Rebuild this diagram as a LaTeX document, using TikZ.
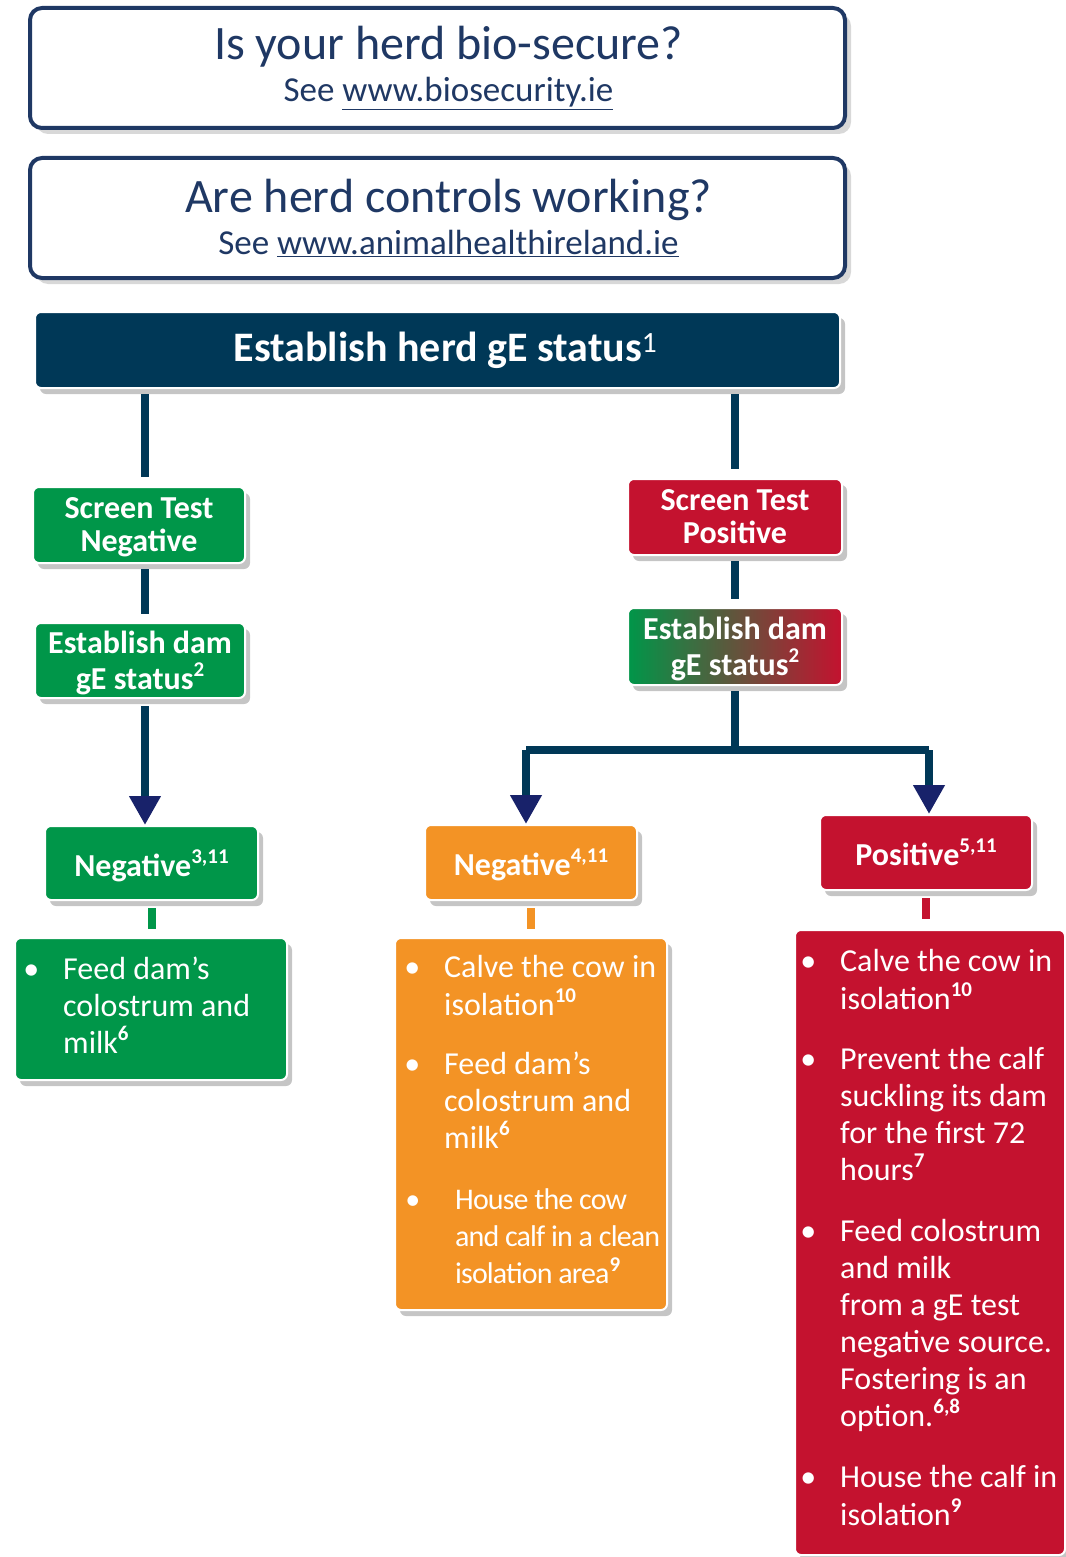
\documentclass[tikz,border=0pt]{standalone}
\usepackage{fontspec}
\setmainfont{Carlito}
\newfontfamily\tightfont{Carlito}[LetterSpace=-3]
\usetikzlibrary{arrows.meta, positioning, shadows, calc}
\definecolor{aheNavy}{HTML}{1F3864}
\definecolor{headFill}{HTML}{003857}
\definecolor{tipNavy}{HTML}{18226A}
\definecolor{negGreen}{HTML}{009649}
\definecolor{posRed}{HTML}{C4122F}
\definecolor{midOrange}{HTML}{F39325}
\tikzset{
    connector/.style={line width=8pt, headFill},
    stemline/.style={line width=8pt, #1},
    downArrow/.style={connector, -{Triangle[length=29pt, width=30pt, color=tipNavy]}},
    boxShadow/.style={drop shadow={shadow xshift=5pt, shadow yshift=-6pt, fill=black!45, opacity=.5}},
}
\newcommand{\fnote}[1]{\raisebox{0.4em}{\fontsize{21}{21}\selectfont\bfseries #1}}
\newcommand{\bul}[1][24pt]{\makebox[0pt][r]{\textbullet\hspace{#1}}}
\newcommand{\qpad}{\hspace*{22pt}}

\begin{document}
\begin{tikzpicture}[
        x=1pt, y=-1pt,
        question/.style={
            rectangle, rounded corners=12pt, draw=aheNavy, line width=4pt,
            fill=white, text=aheNavy, minimum width=815pt, minimum height=120pt,
            align=center, font=\fontsize{35}{42}\selectfont,
            drop shadow={shadow xshift=6pt, shadow yshift=-6pt, fill=black!30, opacity=.5}
        },
        header/.style={
            rectangle, rounded corners=6pt, fill=headFill, draw=white, line width=2pt,
            text=white, minimum width=805pt, minimum height=76pt,
            font=\bfseries\fontsize{42}{46}\selectfont, boxShadow
        },
        status/.style={
            rectangle, rounded corners=6pt, fill=#1, draw=white, line width=2pt,
            text=white, minimum width=212pt, minimum height=76pt, align=center,
            text depth=0pt, font=\bfseries\fontsize{32}{33}\selectfont, boxShadow
        },
        damstatus/.style={status=#1, font=\bfseries\fontsize{32}{36}\selectfont},
        listbox/.style={
            rectangle, rounded corners=6pt, fill=#1, draw=white, line width=2pt,
            minimum width=272pt, boxShadow
        },
        itemtext/.style={
            anchor=north west, inner sep=0pt, text=white, align=left,
            font=\fontsize{32}{37}\selectfont
        },
    ]

    \useasboundingbox (0,0) rectangle (1065,1557);

    % ---- Questions ----
    \node[question] (bioQ) at (437.5,68)
        {\qpad{\fontsize{48}{42}\selectfont Is your herd bio-secure?}\\\qpad See \underline{www.biosecurity.ie}};
    \node[question] (ctrlQ) at (437.5,218)
        {\qpad{\fontsize{48}{42}\selectfont Are herd controls working?}\\\qpad See \underline{www.animalhealthireland.ie}};

    % Herd status
    \node[header] (herd) at (437.5,350) {\hspace*{16pt}Establish herd gE status\textsuperscript{\normalfont 1}};

    % ---- Screen test negative branch ----
    \node[status=negGreen] (stNeg) at (139,525) {Screen Test\\Negative};
    \node[damstatus=negGreen, minimum width=210pt, minimum height=75pt] (damL) at (140,660.5) {Establish dam\\gE status\fnote{2}};
    \node[status=negGreen, minimum width=213pt, minimum height=74pt] (negL) at (151.5,863) {Negative\fnote{3,11}};
    \node[listbox=negGreen, minimum height=142pt] (listL) at (151,1009) {};
    \node[itemtext] (listLa) at (63,953) {\bul\strut Feed dam’s\\colostrum and\\milk\fnote{6}};

    % ---- Screen test positive branch ----
    \node[status=posRed, minimum width=214pt] (stPos) at (735,517) {Screen Test\\Positive};
    \node[damstatus=posRed, left color=negGreen, right color=posRed, minimum width=214pt, minimum height=77pt]
        (damR) at (735,646.5) {Establish dam\\gE status\fnote{2}};

    % Dam negative
    \node[status=midOrange, minimum height=75pt] (negM) at (531,862.5) {Negative\fnote{4,11}};
    \node[listbox=midOrange, minimum height=372pt] (listM) at (531,1124) {};
    \node[itemtext] (listMa) at (444,951) {\bul\strut Calve the cow in\\isolation\fnote{10}};
    \node[itemtext] (listMb) at (444,1048) {\bul\strut Feed dam’s\\colostrum and\\milk\fnote{6}};
    \node[itemtext, font=\tightfont\fontsize{30}{37}\selectfont] (listMc) at (455,1183)
        {\bul[35pt]\strut House the cow\\and calf in a clean\\isolation area\fnote{9}};

    % Dam positive
    \node[status=posRed, minimum height=75pt] (posR) at (926,852.5) {Positive\fnote{5,11}};
    \node[listbox=posRed, minimum width=270pt, minimum height=625pt] (listR) at (930,1242.5) {};
    \node[itemtext] (listRa) at (840,945) {\bul\strut Calve the cow in\\isolation\fnote{10}};
    \node[itemtext] (listRb) at (840,1043) {\bul\strut Prevent the calf\\suckling its dam\\for the first 72\\hours\fnote{7}};
    \node[itemtext] (listRc) at (840,1215)
        {\bul\strut Feed colostrum\\and milk\\from a gE test\\negative source.\\Fostering is an\\option.\fnote{6,8}};
    \node[itemtext] (listRd) at (840,1461) {\bul\strut House the calf in\\isolation\fnote{9}};

    % ---- Connectors ----
    \coordinate (colL) at (145,0);
    \draw[connector, shorten <=5pt, shorten >=9pt] (colL |- herd.south) -- (colL |- stNeg.north);
    \draw[connector, shorten <=5pt, shorten >=8pt] (colL |- stNeg.south) -- (colL |- damL.north);
    \draw[downArrow, shorten <=7pt] (colL |- damL.south) -- (colL |- negL.north);
    \draw[stemline=negGreen, shorten <=7pt, shorten >=8pt] (negL.south) -- (negL.south |- listL.north);

    \draw[connector, shorten <=5pt, shorten >=9pt] (stPos.north |- herd.south) -- (stPos.north);
    \draw[connector, shorten <=5pt, shorten >=8pt] (stPos.south) -- (damR.north);

    % Split below dam status
    \coordinate (splitL) at (526,750);
    \coordinate (splitR) at (929,750);
    \draw[connector, shorten <=5pt] (damR.south) -- (damR.south |- splitL);
    \draw[connector, line cap=square] (splitL) -- (splitR);
    \draw[downArrow] (splitL) -- (splitL |- negM.north);
    \draw[downArrow] (splitR) -- (splitR |- posR.north);

    \draw[stemline=midOrange, shorten <=7pt, shorten >=8pt] (negM.south) -- (negM.south |- listM.north);
    \draw[stemline=posRed, shorten <=7pt, shorten >=10pt] (posR.south) -- (posR.south |- listR.north);

\end{tikzpicture}
\end{document}
